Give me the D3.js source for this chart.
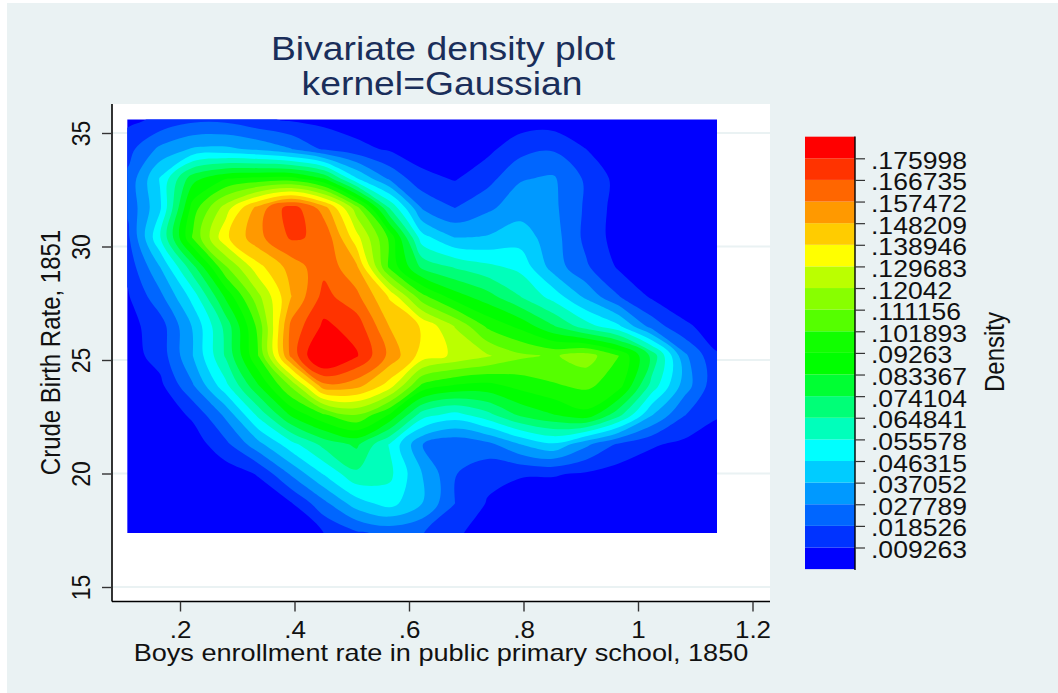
<!DOCTYPE html>
<html>
<head>
<meta charset="utf-8">
<script src="https://cdn.jsdelivr.net/npm/d3@7"></script>
<style>
  html, body { margin: 0; padding: 0; background: #fff; }
  text { font-family: "Liberation Sans", Arial, sans-serif; fill: #111; }
</style>
</head>
<body>
<svg id="chart" width="1058" height="693"></svg>
<script>
// grid positions of the density estimate
var gridX = [0.108, 0.165, 0.222, 0.280, 0.337, 0.394, 0.451, 0.509, 0.566, 0.623, 0.680, 0.737, 0.795, 0.852, 0.909, 0.966, 1.024, 1.081, 1.138];
var gridY = [35.6, 34.3, 33.0, 31.7, 30.4, 29.1, 27.8, 26.5, 25.2, 23.9, 22.6, 21.3, 20.0, 18.7, 17.38];

// density, x 1000, one row per gridY value
var densityRows = [
  [7, 11, 16, 16, 11, 8, 6.5, 4, 3, 2, 1.5, 2, 4, 4, 2, 1, 1, 1, 1],
  [15, 30, 38, 39, 35, 28, 17, 12, 8, 4, 3, 7, 15, 17.5, 9.3, 3, 1, 1, 1],
  [20.5, 47, 80, 92, 95, 96, 83, 47, 26, 12, 8.5, 15, 27, 29, 17, 6, 2, 1, 1],
  [20, 45, 97, 125, 152, 172, 153, 115, 65, 27, 18.5, 26, 33, 30, 17, 5, 2, 1, 1],
  [16, 55, 103, 137, 155, 168, 165, 133, 100, 50, 37, 38, 42, 32, 16, 5, 2, 1, 1],
  [12, 37, 71, 110, 136, 152, 164, 150, 100, 72, 64, 58, 53, 33, 20, 8, 3, 1, 1],
  [8, 25, 50, 85, 118, 148, 170, 160, 138, 105, 88, 78, 65, 52, 35, 19, 8, 3, 1.5],
  [6, 14, 38, 68, 105, 160, 178, 172, 148, 138, 120, 100, 90, 75, 60, 48, 24, 11, 5],
  [5, 13, 37, 66, 102, 160, 192, 177, 155, 135, 128, 121.5, 113, 110, 116, 102, 72, 30, 10],
  [3, 7, 27, 53, 83, 113, 155, 152, 135, 100, 92, 90, 96, 101, 104, 97, 62, 33, 11.5],
  [1.5, 3, 11, 30, 58, 85, 101, 111, 92, 60, 52, 62, 76, 83, 90, 68, 38, 19, 10],
  [1, 2, 4, 16, 34, 52, 68, 76, 55, 28, 20, 25, 37, 45, 30, 17, 10.5, 7, 5],
  [1, 1, 2, 4, 10, 29, 47, 63, 58, 37, 19, 12, 10, 10, 8, 5, 2.5, 2, 1],
  [1, 1, 1, 1.5, 3, 8.5, 25, 42, 50, 37, 18.5, 8.5, 5, 3, 2, 1.5, 1, 1, 1],
  [1, 1, 1, 1, 2, 4, 9.3, 17, 21, 19, 10.5, 6, 3, 2, 1, 1, 1, 1, 1]
];

// contour cuts, as on the legend
var cutLabels = [".009263", ".018526", ".027789", ".037052", ".046315", ".055578", ".064841", ".074104", ".083367", ".09263",
  ".101893", ".111156", ".12042", ".129683", ".138946", ".148209", ".157472", ".166735", ".175998"];
var cuts = cutLabels.map(Number);
var bandColors = ["#0000ff", "#0033ff", "#0066ff", "#0099ff", "#00ccff", "#00ffff", "#00ffbb", "#00ff77", "#00ff33", "#00ff00",
  "#11ff00", "#55ff00", "#88ff00", "#bbff00", "#ffff00", "#ffcc00", "#ff9900", "#ff6600", "#ff3300", "#ff0000"];

var xTicks = [0.2, 0.4, 0.6, 0.8, 1, 1.2];
var yTicks = [15, 20, 25, 30, 35];
var fmtX = function (d) { return String(d).replace(/^0\./, '.'); };

var bg = '#eaf2f3';
var stretch = 1.13; // the picture is wider than its type: all text runs stretched
var svg = d3.select('#chart');

svg.append('rect').attr('x', 7).attr('y', 3).attr('width', 1051).attr('height', 690).attr('fill', bg);
// plot region
svg.append('rect').attr('x', 112).attr('y', 104).attr('width', 658).attr('height', 497.5).attr('fill', '#fff');

// scales set from the tick pixels of the picture
var x = d3.scaleLinear().domain([0.2, 1.2]).range([180, 752.5]);
var y = d3.scaleLinear().domain([15, 35]).range([587, 133]);

// gridlines
svg.append('g').selectAll('line').data(yTicks).join('line')
  .attr('x1', 112).attr('x2', 770)
  .attr('y1', y).attr('y2', y)
  .attr('stroke', bg).attr('stroke-width', 2);

// contour bands
var nx = gridX.length, ny = gridY.length;
var values = d3.merge(densityRows).map(function (d) { return d / 1000; });
var contours = d3.contours().size([nx, ny]).smooth(true).thresholds([-1].concat(cuts))(values);

var stepX = d3.scaleLinear().domain([0.5, nx - 0.5]).range([x(gridX[0]), x(gridX[nx - 1])]);
var stepY = d3.scaleLinear().domain([0.5, ny - 0.5]).range([y(gridY[0]), y(gridY[ny - 1])]);
var ringLine = d3.line()
  .x(function (p) { return stepX(p[0]); })
  .y(function (p) { return stepY(p[1]); })
  .curve(d3.curveCatmullRomClosed.alpha(0.5));
function bandPath(c) {
  return c.coordinates.map(function (poly) {
    return poly.map(function (ring) { return ringLine(ring.slice(0, -1)); }).join('');
  }).join('');
}

svg.append('clipPath').attr('id', 'heat').append('rect')
  .attr('x', x(gridX[0])).attr('y', y(gridY[0]))
  .attr('width', x(gridX[nx - 1]) - x(gridX[0]))
  .attr('height', y(gridY[ny - 1]) - y(gridY[0]));

svg.append('g').attr('clip-path', 'url(#heat)')
  .selectAll('path').data(contours).join('path')
  .attr('d', bandPath)
  .attr('fill-rule', 'evenodd')
  .attr('fill', function (d, i) { return bandColors[i]; });

// axes
var gx = svg.append('g').attr('transform', 'translate(0,601.5)')
  .call(d3.axisBottom(x).tickValues(xTicks).tickFormat(fmtX).tickSize(10));
gx.select('.domain').attr('d', 'M112,0H770').attr('stroke', '#000').attr('stroke-width', 1.6);
gx.selectAll('.tick line').attr('stroke', '#333').attr('stroke-width', 1.4);
gx.selectAll('text').attr('font-size', 23).attr('font-family', null)
  .attr('y', 0).attr('dy', 0).attr('text-anchor', 'middle')
  .attr('transform', 'translate(0,36.5) scale(' + stretch + ',1)');

var gy = svg.append('g').attr('transform', 'translate(112,0)')
  .call(d3.axisLeft(y).tickValues(yTicks).tickSize(10));
gy.select('.domain').attr('d', 'M0,104V601.5').attr('stroke', '#000').attr('stroke-width', 1.6);
gy.selectAll('.tick line').attr('stroke', '#333').attr('stroke-width', 1.4);
gy.selectAll('text').attr('font-size', 23).attr('font-family', null)
  .attr('x', 0).attr('y', 0).attr('dy', 0).attr('text-anchor', 'middle')
  .attr('transform', 'translate(-22,0) scale(' + stretch + ',1) rotate(-90)');

// titles
function stretched(px, py, rotate) {
  return 'translate(' + px + ',' + py + ') scale(' + stretch + ',1)' + (rotate ? ' rotate(-90)' : '');
}
svg.append('text').attr('transform', stretched(443, 60)).attr('text-anchor', 'middle')
  .attr('font-size', 33).style('fill', '#1a2e5a').text('Bivariate density plot');
svg.append('text').attr('transform', stretched(442, 95)).attr('text-anchor', 'middle')
  .attr('font-size', 33).style('fill', '#1a2e5a').text('kernel=Gaussian');
svg.append('text').attr('transform', stretched(441, 661)).attr('text-anchor', 'middle')
  .attr('font-size', 24).text('Boys enrollment rate in public primary school, 1850');
svg.append('text').attr('transform', stretched(60, 352.5, true)).attr('text-anchor', 'middle')
  .attr('font-size', 24).text('Crude Birth Rate, 1851');

// colour legend
var legendY = d3.scaleLinear().domain([cuts[0], cuts[cuts.length - 1]]).range([547.5, 158.3]);
var bandEdges = [cuts[0] - (cuts[1] - cuts[0])].concat(cuts, [cuts[18] + (cuts[18] - cuts[17])]);
var legend = svg.append('g');
legend.selectAll('rect').data(bandColors).join('rect')
  .attr('x', 805).attr('width', 50)
  .attr('y', function (d, i) { return legendY(bandEdges[i + 1]); })
  .attr('height', function (d, i) { return legendY(bandEdges[i]) - legendY(bandEdges[i + 1]); })
  .attr('fill', function (d) { return d; });
var gl = svg.append('g').attr('transform', 'translate(855,0)')
  .call(d3.axisRight(legendY).tickValues(cuts).tickFormat(function (d, i) { return cutLabels[i]; }).tickSize(10));
gl.select('.domain').attr('d', 'M0,136.5V570').attr('stroke', '#000').attr('stroke-width', 1.4);
gl.selectAll('.tick line').attr('stroke', '#333').attr('stroke-width', 1.2);
gl.selectAll('text').attr('font-size', 23.5).attr('font-family', null)
  .attr('x', 0).attr('y', 0).attr('dy', 0)
  .attr('transform', 'translate(16,10) scale(' + stretch + ',1)');
svg.append('text').attr('transform', stretched(1004, 352, true)).attr('text-anchor', 'middle')
  .attr('font-size', 24).text('Density');
</script>
</body>
</html>
